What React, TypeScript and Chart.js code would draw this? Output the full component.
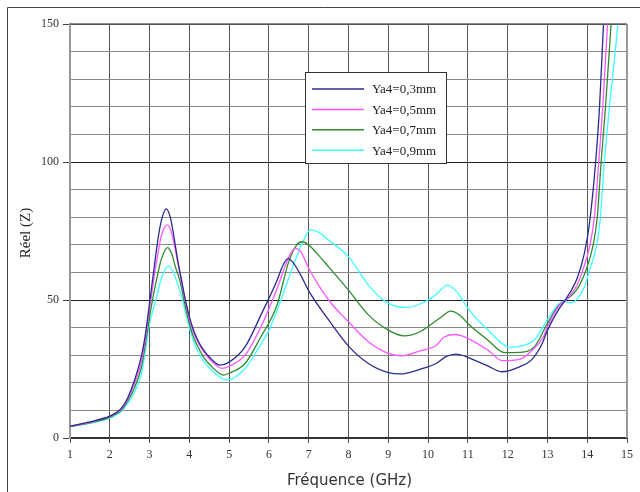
import React, { useEffect, useRef } from 'react';
import { Chart, registerables } from 'chart.js';

Chart.register(...registerables);

// ---- data ----
const seriesLabels = ['Ya4=0,3mm', 'Ya4=0,5mm', 'Ya4=0,7mm', 'Ya4=0,9mm'];
const seriesColors = ['#2b2b8f', '#ff55ff', '#2e8b2e', '#3dffff'];

const xTickValues = [1, 2, 3, 4, 5, 6, 7, 8, 9, 10, 11, 12, 13, 14, 15];
const yLabelValues = [0, 50, 100, 150];

const freq03 = [1, 1.5, 2, 2.15, 2.3, 2.45, 2.6, 2.8, 2.9, 3.0, 3.1, 3.2, 3.3, 3.42, 3.52, 3.6, 3.7, 3.8, 3.9, 4.0, 4.1, 4.2, 4.35, 4.55, 4.76, 5.0, 5.4, 5.8, 6.2, 6.35, 6.48, 6.6, 6.8, 7.0, 7.5, 8.0, 8.5, 9.0, 9.3, 9.8, 10.2, 10.45, 10.7, 10.9, 11.0, 11.5, 11.85, 12.3, 12.6, 12.85, 13.0, 13.25, 13.45, 13.75, 13.93, 14.05, 14.2, 14.31, 14.41, 14.5];
const real03 = [4.3, 5.8, 7.9, 9.1, 10.9, 14.5, 20, 30, 38, 49, 60, 71, 79, 83, 80, 74, 65, 57.5, 50, 44, 39.3, 35.8, 32, 28.6, 26.4, 27.5, 33, 44.6, 57, 62.5, 65, 63.7, 59, 53.3, 42.8, 33.3, 27, 23.7, 23.2, 24.9, 27, 29.5, 30.4, 29.8, 29.2, 26.1, 24, 25.8, 28.3, 33.7, 39, 45.8, 50, 58, 67, 77, 98, 120, 150, 170];

const freq05 = [1, 1.5, 2, 2.15, 2.3, 2.45, 2.6, 2.8, 2.9, 3.0, 3.1, 3.2, 3.3, 3.45, 3.55, 3.65, 3.77, 3.9, 4.0, 4.1, 4.2, 4.35, 4.55, 4.82, 5.0, 5.4, 5.8, 6.2, 6.4, 6.55, 6.67, 6.8, 7.0, 7.5, 8.0, 8.5, 9.0, 9.35, 9.8, 10.2, 10.4, 10.65, 10.85, 11.0, 11.5, 11.87, 12.3, 12.6, 12.9, 13.0, 13.3, 13.47, 13.75, 13.89, 14.06, 14.18, 14.29, 14.4, 14.51, 14.6];
const real05 = [4.3, 5.7, 7.8, 9, 10.6, 14, 19, 28, 36.5, 47, 57, 66, 73.5, 77.2, 74.5, 68, 59, 49.5, 43, 38.5, 35.2, 31.5, 28, 25.2, 26, 30, 40.3, 54, 62, 67, 68.7, 67.5, 61.5, 50, 42.1, 34.9, 30.7, 29.8, 31.6, 33.5, 36.5, 37.5, 37, 36.1, 31.9, 28, 28.5, 31.5, 36.7, 40.3, 48, 50, 55.5, 60.9, 69.3, 80, 100, 122, 150, 170];

const freq07 = [1, 1.5, 2, 2.15, 2.3, 2.45, 2.6, 2.8, 2.9, 3.0, 3.1, 3.2, 3.3, 3.45, 3.55, 3.65, 3.77, 3.9, 4.0, 4.1, 4.2, 4.35, 4.55, 4.86, 5.0, 5.4, 5.8, 6.2, 6.5, 6.7, 6.84, 7.0, 7.2, 7.5, 8.0, 8.5, 9.0, 9.4, 9.8, 10.3, 10.57, 10.8, 11.0, 11.5, 11.93, 12.3, 12.67, 13.0, 13.26, 13.47, 13.75, 13.97, 14.14, 14.25, 14.35, 14.46, 14.6, 14.7];
const real07 = [4.2, 5.5, 7.5, 8.7, 10.2, 13.3, 17.5, 26, 34.5, 44, 52, 59, 65, 69, 67, 62, 56.6, 47.5, 41.5, 36.8, 33.5, 29.5, 26, 22.8, 23.5, 27, 36.7, 48, 64, 70, 71.1, 69.9, 67, 62, 53.6, 44.6, 39.1, 37, 38.5, 43.5, 46, 44.5, 41.5, 35.5, 30.9, 31, 33, 41.5, 47.6, 50, 54, 60.9, 69.3, 79.6, 100, 120, 150, 170];

const freq09 = [1, 1.5, 2, 2.15, 2.3, 2.45, 2.6, 2.8, 2.9, 3.0, 3.1, 3.2, 3.3, 3.48, 3.6, 3.7, 3.8, 3.9, 4.0, 4.1, 4.2, 4.35, 4.6, 4.95, 5.4, 5.8, 6.0, 6.3, 6.6, 6.85, 7.05, 7.25, 7.5, 8.0, 8.5, 9.0, 9.48, 10.0, 10.2, 10.49, 10.75, 11.0, 11.5, 12.08, 12.33, 12.67, 13.0, 13.26, 13.4, 13.6, 13.76, 13.93, 14.06, 14.23, 14.33, 14.43, 14.56, 14.77, 14.9];
const real09 = [4.1, 5.3, 7.2, 8.3, 9.8, 12.5, 16, 23.5, 32, 41.5, 47, 52.5, 58, 62.4, 60, 56, 51.5, 45.5, 40, 35.3, 31.8, 28, 24, 21, 25.2, 34, 39, 50, 62, 71, 75.4, 74.5, 71.7, 65.7, 55.4, 48.8, 47.3, 50, 52, 55.4, 52.5, 47, 39.1, 32.9, 33.3, 35.5, 42.8, 48.2, 49.5, 49, 50.6, 54.8, 60.9, 69.3, 79.6, 100, 120, 150, 175];

const seriesFreqs = [freq03, freq05, freq07, freq09];
const seriesReals = [real03, real05, real07, real09];

const SERIF = "'Liberation Serif', 'Times New Roman', serif";
const SANS = "'DejaVu Sans', Verdana, sans-serif";

const decorPlugin = {
  id: 'decor',
  beforeDraw(chart: any) {
    const ctx = chart.ctx;
    ctx.save();
    ctx.fillStyle = '#ffffff';
    ctx.fillRect(0, 0, chart.width, chart.height);
    ctx.strokeStyle = '#444';
    ctx.lineWidth = 1;
    ctx.beginPath();
    ctx.moveTo(7.5, chart.height);
    ctx.lineTo(7.5, 7.5);
    ctx.lineTo(chart.width, 7.5);
    ctx.stroke();
    ctx.restore();
  },
  afterDatasetsDraw(chart: any) {
    const ctx = chart.ctx;
    const a = chart.chartArea;
    ctx.save();
    ctx.strokeStyle = '#666';
    ctx.lineWidth = 1.5;
    ctx.beginPath();
    ctx.moveTo(a.left, a.top);
    ctx.lineTo(a.right, a.top);
    ctx.stroke();
    ctx.strokeStyle = '#999';
    ctx.lineWidth = 2;
    ctx.beginPath();
    ctx.moveTo(a.right, a.top);
    ctx.lineTo(a.right, a.bottom);
    ctx.stroke();

    // legend box
    const bx = 305.5, by = 72.5, bw = 141, bh = 91;
    ctx.fillStyle = '#ffffff';
    ctx.fillRect(bx, by, bw, bh);
    ctx.strokeStyle = '#333';
    ctx.lineWidth = 1;
    ctx.strokeRect(bx, by, bw, bh);
    ctx.font = `13px ${SERIF}`;
    ctx.textBaseline = 'middle';
    ctx.textAlign = 'left';
    seriesLabels.forEach((lab, i) => {
      const y = 89 + i * 20.4;
      ctx.strokeStyle = seriesColors[i];
      ctx.lineWidth = 1.5;
      ctx.beginPath();
      ctx.moveTo(312, y);
      ctx.lineTo(364, y);
      ctx.stroke();
      ctx.fillStyle = '#222';
      ctx.fillText(lab, 372, y + 1);
    });

    // axis titles
    ctx.fillStyle = '#333';
    ctx.font = `15px ${SANS}`;
    ctx.textAlign = 'center';
    ctx.textBaseline = 'middle';
    ctx.fillText('Fréquence (GHz)', (a.left + a.right) / 2 + 1, 481);
    ctx.save();
    ctx.translate(26, 233);
    ctx.rotate(-Math.PI / 2);
    ctx.font = `15px ${SERIF}`;
    ctx.fillStyle = '#222';
    ctx.fillText('Réel (Z)', 0, 0);
    ctx.restore();
    ctx.restore();
  },
};

export default function App() {
  const canvasRef = useRef<HTMLCanvasElement | null>(null);

  useEffect(() => {
    const canvas = canvasRef.current;
    if (!canvas) return;
    const datasets = seriesLabels.map((lab, i) => ({
      label: lab,
      data: seriesFreqs[i].map((f, j) => ({ x: f, y: seriesReals[i][j] })),
      borderColor: seriesColors[i],
      backgroundColor: seriesColors[i],
      borderWidth: 1.3,
      pointRadius: 0,
      cubicInterpolationMode: 'monotone' as const,
      fill: false,
    }));

    const chart = new Chart(canvas, {
      type: 'line',
      data: { datasets },
      plugins: [decorPlugin],
      options: {
        animation: false,
        responsive: false,
        devicePixelRatio: 1,
        layout: { padding: { left: 0, top: 24, right: 13, bottom: 0 } },
        plugins: {
          legend: { display: false },
          tooltip: { enabled: false },
          title: { display: false },
        },
        scales: {
          x: {
            type: 'linear',
            min: 1,
            max: 15,
            afterBuildTicks: (scale: any) => {
              scale.ticks = xTickValues.map((v) => ({ value: v }));
            },
            afterFit: (scale: any) => {
              scale.height = 54;
            },
            ticks: {
              autoSkip: false,
              maxRotation: 0,
              padding: 5,
              color: '#333',
              font: { family: SERIF, size: 12 },
              callback: (v: any) => String(v),
            },
            grid: {
              color: '#555',
              lineWidth: 1,
              tickLength: 5,
              tickColor: '#555',
            },
            border: { display: true, color: '#333', width: 2 },
          },
          y: {
            type: 'linear',
            min: 0,
            max: 150,
            afterBuildTicks: (scale: any) => {
              const t: any[] = [];
              for (let v = 0; v <= 150; v += 10) t.push({ value: v });
              scale.ticks = t;
            },
            afterFit: (scale: any) => {
              scale.width = 70;
            },
            ticks: {
              autoSkip: false,
              padding: 4,
              color: '#333',
              font: { family: SERIF, size: 12 },
              callback: (v: any) => (yLabelValues.includes(Number(v)) ? String(v) : ''),
            },
            grid: {
              color: (c: any) => (c.tick && c.tick.value % 50 === 0 ? '#222' : '#8a8a8a'),
              lineWidth: 1,
              tickLength: 7,
              tickColor: (c: any) => (c.tick && c.tick.value % 50 === 0 ? '#444' : 'rgba(0,0,0,0)'),
            },
            border: { display: true, color: '#999', width: 2 },
          },
        },
      },
    });
    return () => chart.destroy();
  }, []);

  return (
    <div style={{ position: 'fixed', left: 0, top: 0, width: 640, height: 492, background: '#fff' }}>
      <canvas ref={canvasRef} width={640} height={492} style={{ width: 640, height: 492, display: 'block' }} />
    </div>
  );
}
